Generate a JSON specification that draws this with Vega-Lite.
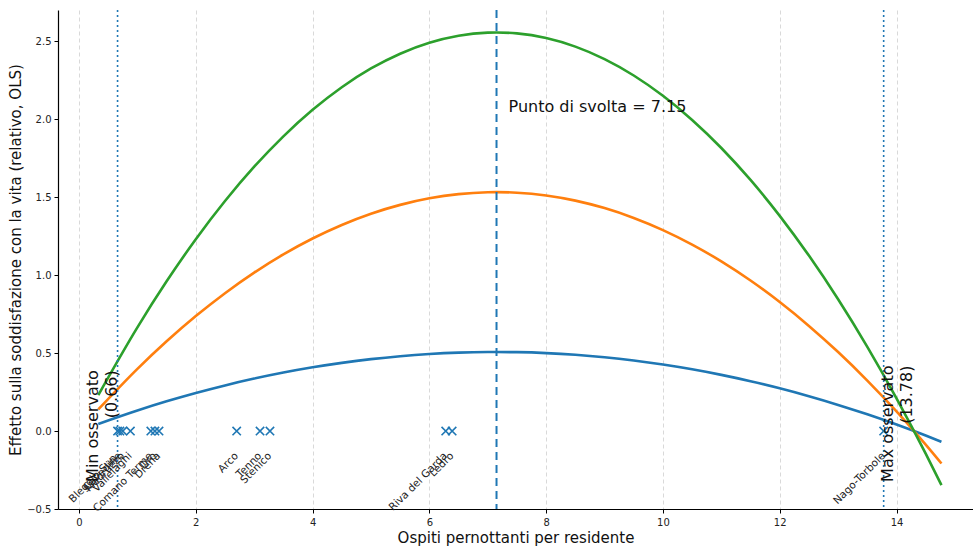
{
  "$schema": "https://vega.github.io/schema/vega-lite/v6.json",
  "width": 915,
  "height": 499,
  "autosize": {"type": "none"},
  "padding": {"left": 58, "top": 10, "right": 0, "bottom": 38},
  "background": "white",
  "config": {
    "view": {"stroke": null},
    "font": "DejaVu Sans",
    "axis": {
      "labelFont": "DejaVu Sans",
      "titleFont": "DejaVu Sans",
      "labelFontSize": 10,
      "titleFontSize": 15,
      "titleFontWeight": "normal",
      "labelColor": "#222",
      "titleColor": "#111",
      "tickColor": "#000",
      "domainColor": "#000",
      "domainWidth": 1.2,
      "gridColor": "#cfcfcf",
      "gridDash": [4, 3],
      "gridWidth": 0.8,
      "tickSize": 4
    }
  },
  "datasets": {
    "curve": [
      {"x": 0.33, "y": 0.0457, "serie": "Curva 1"}, {"x": 1, "y": 0.1319, "serie": "Curva 1"}, {"x": 1.5, "y": 0.1904, "serie": "Curva 1"}, {"x": 2, "y": 0.244, "serie": "Curva 1"}, {"x": 2.5, "y": 0.2925, "serie": "Curva 1"}, {"x": 3, "y": 0.3362, "serie": "Curva 1"}, {"x": 3.5, "y": 0.3749, "serie": "Curva 1"}, {"x": 4, "y": 0.4086, "serie": "Curva 1"}, {"x": 4.5, "y": 0.4373, "serie": "Curva 1"}, {"x": 5, "y": 0.4612, "serie": "Curva 1"}, {"x": 5.5, "y": 0.48, "serie": "Curva 1"}, {"x": 6, "y": 0.4939, "serie": "Curva 1"}, {"x": 6.5, "y": 0.5028, "serie": "Curva 1"}, {"x": 7, "y": 0.5068, "serie": "Curva 1"}, {"x": 7.15, "y": 0.507, "serie": "Curva 1"}, {"x": 7.5, "y": 0.5058, "serie": "Curva 1"}, {"x": 8, "y": 0.4999, "serie": "Curva 1"}, {"x": 8.5, "y": 0.489, "serie": "Curva 1"}, {"x": 9, "y": 0.4731, "serie": "Curva 1"}, {"x": 9.5, "y": 0.4522, "serie": "Curva 1"}, {"x": 10, "y": 0.4264, "serie": "Curva 1"}, {"x": 10.5, "y": 0.3957, "serie": "Curva 1"}, {"x": 11, "y": 0.36, "serie": "Curva 1"}, {"x": 11.5, "y": 0.3194, "serie": "Curva 1"}, {"x": 12, "y": 0.2737, "serie": "Curva 1"}, {"x": 12.5, "y": 0.2231, "serie": "Curva 1"}, {"x": 13, "y": 0.1676, "serie": "Curva 1"}, {"x": 13.5, "y": 0.1071, "serie": "Curva 1"}, {"x": 14, "y": 0.0417, "serie": "Curva 1"}, {"x": 14.5, "y": -0.0287, "serie": "Curva 1"}, {"x": 14.77, "y": -0.0689, "serie": "Curva 1"},
      {"x": 0.33, "y": 0.1382, "serie": "Curva 2"}, {"x": 1, "y": 0.3986, "serie": "Curva 2"}, {"x": 1.5, "y": 0.5754, "serie": "Curva 2"}, {"x": 2, "y": 0.7372, "serie": "Curva 2"}, {"x": 2.5, "y": 0.884, "serie": "Curva 2"}, {"x": 3, "y": 1.0159, "serie": "Curva 2"}, {"x": 3.5, "y": 1.1328, "serie": "Curva 2"}, {"x": 4, "y": 1.2346, "serie": "Curva 2"}, {"x": 4.5, "y": 1.3215, "serie": "Curva 2"}, {"x": 5, "y": 1.3935, "serie": "Curva 2"}, {"x": 5.5, "y": 1.4503, "serie": "Curva 2"}, {"x": 6, "y": 1.4923, "serie": "Curva 2"}, {"x": 6.5, "y": 1.5193, "serie": "Curva 2"}, {"x": 7, "y": 1.5313, "serie": "Curva 2"}, {"x": 7.15, "y": 1.532, "serie": "Curva 2"}, {"x": 7.5, "y": 1.5283, "serie": "Curva 2"}, {"x": 8, "y": 1.5104, "serie": "Curva 2"}, {"x": 8.5, "y": 1.4775, "serie": "Curva 2"}, {"x": 9, "y": 1.4295, "serie": "Curva 2"}, {"x": 9.5, "y": 1.3665, "serie": "Curva 2"}, {"x": 10, "y": 1.2886, "serie": "Curva 2"}, {"x": 10.5, "y": 1.1957, "serie": "Curva 2"}, {"x": 11, "y": 1.0879, "serie": "Curva 2"}, {"x": 11.5, "y": 0.965, "serie": "Curva 2"}, {"x": 12, "y": 0.8271, "serie": "Curva 2"}, {"x": 12.5, "y": 0.6742, "serie": "Curva 2"}, {"x": 13, "y": 0.5065, "serie": "Curva 2"}, {"x": 13.5, "y": 0.3237, "serie": "Curva 2"}, {"x": 14, "y": 0.1259, "serie": "Curva 2"}, {"x": 14.5, "y": -0.0869, "serie": "Curva 2"}, {"x": 14.77, "y": -0.208, "serie": "Curva 2"},
      {"x": 0.33, "y": 0.2306, "serie": "Curva 3"}, {"x": 1, "y": 0.6651, "serie": "Curva 3"}, {"x": 1.5, "y": 0.96, "serie": "Curva 3"}, {"x": 2, "y": 1.23, "serie": "Curva 3"}, {"x": 2.5, "y": 1.4748, "serie": "Curva 3"}, {"x": 3, "y": 1.6949, "serie": "Curva 3"}, {"x": 3.5, "y": 1.8899, "serie": "Curva 3"}, {"x": 4, "y": 2.0599, "serie": "Curva 3"}, {"x": 4.5, "y": 2.2048, "serie": "Curva 3"}, {"x": 5, "y": 2.3249, "serie": "Curva 3"}, {"x": 5.5, "y": 2.4198, "serie": "Curva 3"}, {"x": 6, "y": 2.4898, "serie": "Curva 3"}, {"x": 6.5, "y": 2.5348, "serie": "Curva 3"}, {"x": 7, "y": 2.5549, "serie": "Curva 3"}, {"x": 7.15, "y": 2.556, "serie": "Curva 3"}, {"x": 7.5, "y": 2.5499, "serie": "Curva 3"}, {"x": 8, "y": 2.52, "serie": "Curva 3"}, {"x": 8.5, "y": 2.465, "serie": "Curva 3"}, {"x": 9, "y": 2.385, "serie": "Curva 3"}, {"x": 9.5, "y": 2.28, "serie": "Curva 3"}, {"x": 10, "y": 2.1499, "serie": "Curva 3"}, {"x": 10.5, "y": 1.995, "serie": "Curva 3"}, {"x": 11, "y": 1.815, "serie": "Curva 3"}, {"x": 11.5, "y": 1.61, "serie": "Curva 3"}, {"x": 12, "y": 1.38, "serie": "Curva 3"}, {"x": 12.5, "y": 1.1249, "serie": "Curva 3"}, {"x": 13, "y": 0.845, "serie": "Curva 3"}, {"x": 13.5, "y": 0.5401, "serie": "Curva 3"}, {"x": 14, "y": 0.2101, "serie": "Curva 3"}, {"x": 14.5, "y": -0.1449, "serie": "Curva 3"}, {"x": 14.77, "y": -0.3471, "serie": "Curva 3"}
    ],
    "comuni": [
      {"x": 0.66, "comune": "Bleggio Sup."},
      {"x": 0.7, "comune": "Cavedine"},
      {"x": 0.75, "comune": "Madruzzo"},
      {"x": 0.88, "comune": "Vallelaghi"},
      {"x": 1.23, "comune": "Comano Terme"},
      {"x": 1.3, "comune": "Dro"},
      {"x": 1.37, "comune": "Drena"},
      {"x": 2.7, "comune": "Arco"},
      {"x": 3.1, "comune": "Tenno"},
      {"x": 3.27, "comune": "Stenico"},
      {"x": 6.28, "comune": "Riva del Garda"},
      {"x": 6.39, "comune": "Ledro"},
      {"x": 13.78, "comune": "Nago-Torbole"}
    ],
    "svolta": [{"x": 7.15, "testo": "Punto di svolta = 7.15"}],
    "minimo": [{"x": 0.66, "testo": "Min osservato\n(0.66)"}],
    "massimo": [{"x": 13.78, "testo": "Max osservato\n(13.78)"}]
  },
  "encoding": {
    "x": {
      "type": "quantitative",
      "scale": {"domain": [-0.36, 15.31], "nice": false, "zero": false},
      "axis": {"values": [0, 2, 4, 6, 8, 10, 12, 14], "title": "Ospiti pernottanti per residente", "titlePadding": 3, "labelPadding": 4}
    },
    "y": {
      "type": "quantitative",
      "scale": {"domain": [-0.5, 2.7], "nice": false, "zero": false},
      "axis": {"values": [-0.5, 0, 0.5, 1, 1.5, 2, 2.5], "format": ".1f", "title": "Effetto sulla soddisfazione con la vita (relativo, OLS)", "titlePadding": 3, "labelPadding": 3}
    }
  },
  "layer": [
    {
      "mark": {"type": "rule", "color": "#888888", "strokeWidth": 1.2},
      "encoding": {"y": {"datum": 2.7}}
    },
    {
      "data": {"name": "curve"},
      "mark": {"type": "line", "strokeWidth": 2.6, "clip": true, "interpolate": "monotone"},
      "encoding": {
        "x": {"field": "x"},
        "y": {"field": "y"},
        "color": {"field": "serie", "type": "nominal", "scale": {"domain": ["Curva 1", "Curva 2", "Curva 3"], "range": ["#1f77b4", "#ff7f0e", "#2ca02c"]}, "legend": null}
      }
    },
    {
      "data": {"name": "svolta"},
      "mark": {"type": "rule", "color": "#1f77b4", "strokeWidth": 2, "strokeDash": [8, 5]},
      "encoding": {"x": {"field": "x"}}
    },
    {
      "data": {"name": "minimo"},
      "mark": {"type": "rule", "color": "#1f77b4", "strokeWidth": 1.6, "strokeDash": [2, 3]},
      "encoding": {"x": {"field": "x"}}
    },
    {
      "data": {"name": "massimo"},
      "mark": {"type": "rule", "color": "#1f77b4", "strokeWidth": 1.6, "strokeDash": [2, 3]},
      "encoding": {"x": {"field": "x"}}
    },
    {
      "data": {"name": "comuni"},
      "mark": {"type": "point", "shape": "M-1,-1L1,1M-1,1L1,-1", "filled": false, "color": "#1f77b4", "strokeWidth": 1.6, "size": 70, "opacity": 1},
      "encoding": {"x": {"field": "x"}, "y": {"datum": 0}}
    },
    {
      "data": {"name": "comuni"},
      "mark": {"type": "text", "angle": 315, "align": "right", "baseline": "middle", "fontSize": 10.5, "color": "#222"},
      "encoding": {"x": {"field": "x"}, "y": {"datum": -0.15}, "text": {"field": "comune"}}
    },
    {
      "data": {"name": "svolta"},
      "mark": {"type": "text", "align": "left", "baseline": "middle", "fontSize": 16, "color": "#111", "dx": 12},
      "encoding": {"x": {"field": "x"}, "y": {"datum": 2.08}, "text": {"field": "testo"}}
    },
    {
      "data": {"name": "minimo"},
      "mark": {"type": "text", "angle": 270, "align": "right", "baseline": "top", "fontSize": 16, "lineHeight": 19, "lineBreak": "\n", "color": "#111", "dy": -33},
      "encoding": {"x": {"field": "x"}, "y": {"datum": 0.39}, "text": {"field": "testo"}}
    },
    {
      "data": {"name": "massimo"},
      "mark": {"type": "text", "angle": 270, "align": "right", "baseline": "top", "fontSize": 16, "lineHeight": 19, "lineBreak": "\n", "color": "#111", "dy": -4},
      "encoding": {"x": {"field": "x"}, "y": {"datum": 0.42}, "text": {"field": "testo"}}
    }
  ]
}
